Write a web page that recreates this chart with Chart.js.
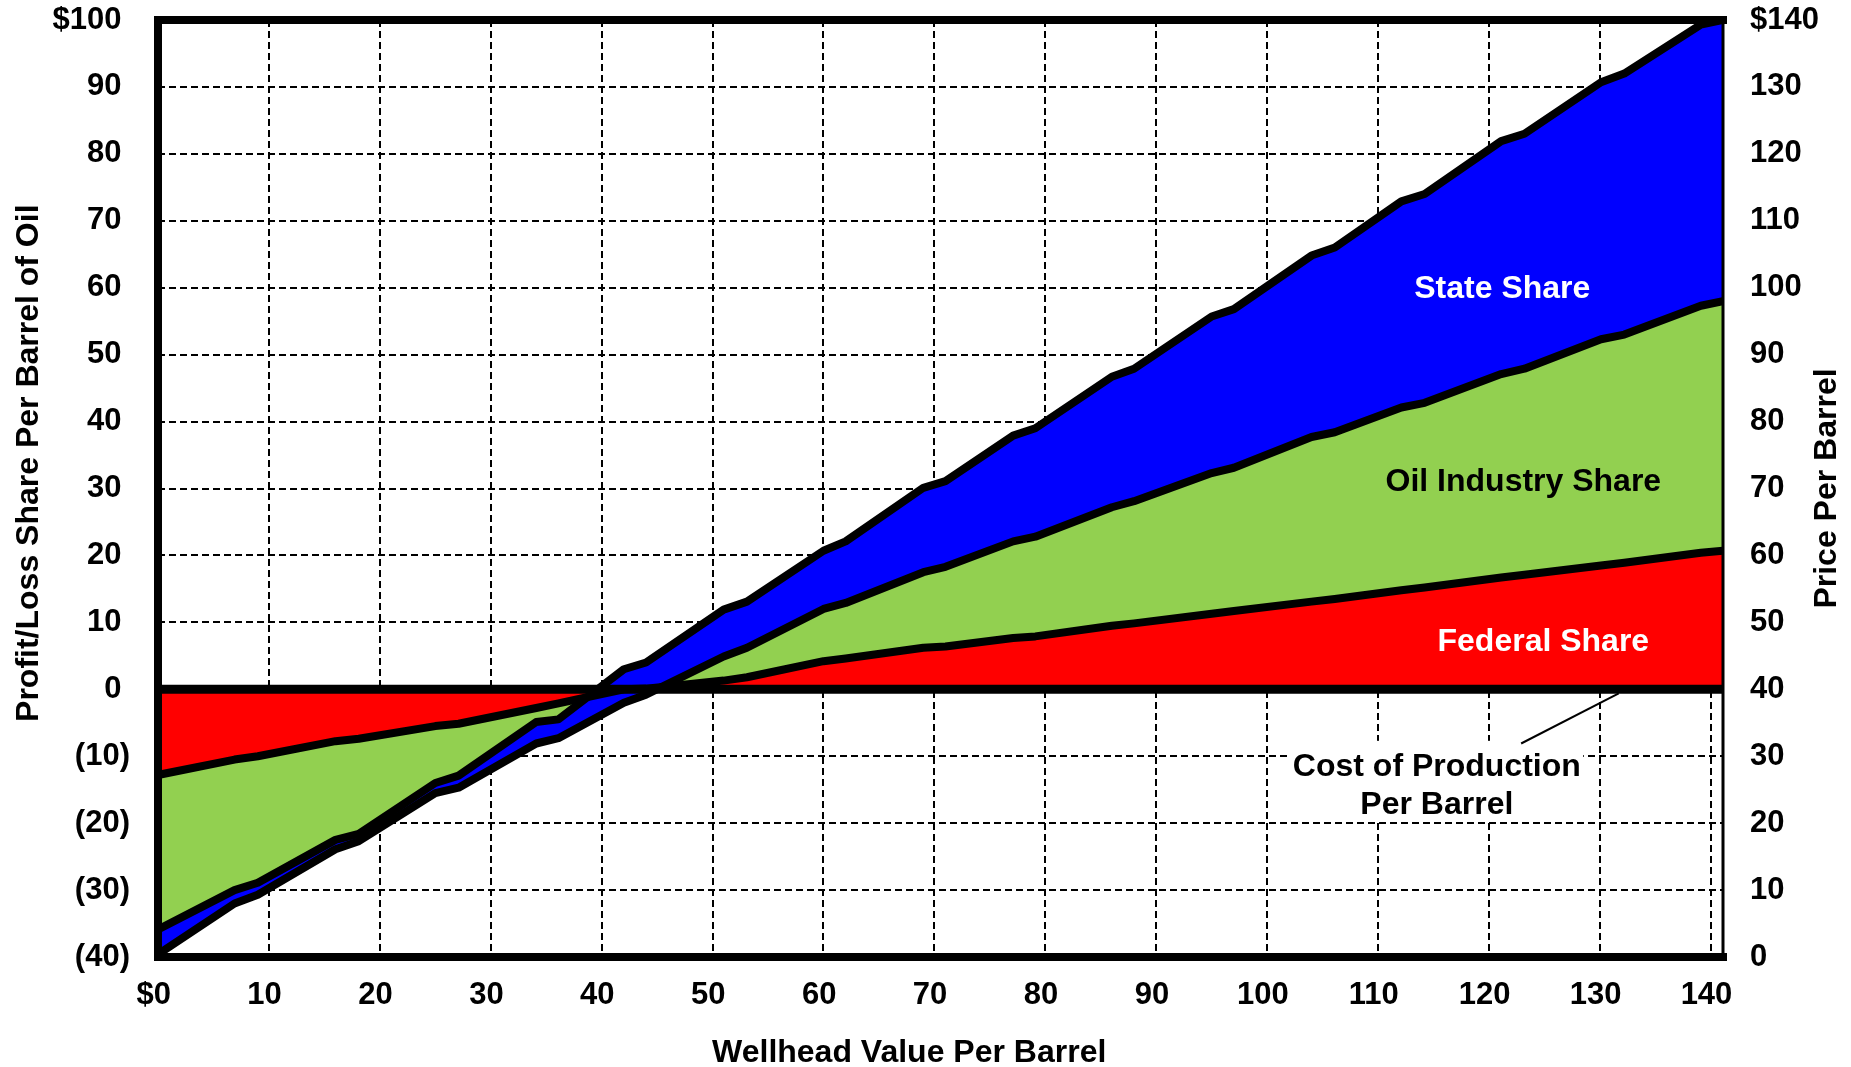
<!DOCTYPE html>
<html>
<head>
<meta charset="utf-8">
<script src="https://cdn.jsdelivr.net/npm/chart.js@4.4.1/dist/chart.umd.min.js"></script>
<style>
html,body{margin:0;padding:0;background:#fff;}
canvas{display:block;}
</style>
</head>
<body>
<canvas id="c" width="1851" height="1067"></canvas>
<script>
// Wellhead value per barrel at each data point
const wellheadValue = [0, 6.9, 9.0, 16.0, 18.1, 25.0, 27.1, 34.1, 36.1, 42.0, 44.0, 51.0, 53.1, 60.0, 62.0, 69.0, 71.0, 77.1, 79.1, 86.0, 88.0, 95.0, 97.0, 104.0, 106.1, 112.1, 114.2, 121.1, 123.2, 130.1, 132.2, 139.1, 141.1];
// Stacked boundary lines (profit/loss per barrel)
const federalShareLine  = [-12.8, -10.5, -10.0, -7.75, -7.4, -5.5, -5.15, -2.8, -2.1, 0.0, 0.1, 1.3, 1.8, 4.2, 4.6, 6.2, 6.4, 7.65, 7.9, 9.5, 9.85, 11.3, 11.7, 13.1, 13.5, 14.8, 15.2, 16.7, 17.1, 18.5, 18.9, 20.4, 20.7];
const industryShareLine = [-35.9, -30.0, -28.9, -22.5, -21.6, -14.0, -12.9, -4.9, -4.5, 3.0, 4.0, 11.9, 13.1, 20.7, 22.1, 30.1, 31.1, 37.9, 39.0, 46.7, 47.9, 55.7, 56.8, 64.8, 66.0, 72.9, 74.0, 81.9, 83.0, 90.7, 92.0, 99.3, 100.0];
const stateShareLine    = [-39.6, -32.0, -30.7, -23.9, -22.7, -15.5, -14.7, -8.1, -7.3, -2.0, -0.8, 4.9, 6.2, 12.0, 12.9, 17.5, 18.3, 22.1, 22.8, 27.2, 28.1, 32.3, 33.1, 37.7, 38.4, 42.1, 42.8, 47.1, 47.9, 52.3, 53.0, 57.3, 58.0];
// Axis ticks
const xTicks = [0, 10, 20, 30, 40, 50, 60, 70, 80, 90, 100, 110, 120, 130, 140];
const leftRange = [-40, 100];
const rightRange = [0, 140];
// Text
const areaLabels = [
  {text: 'State Share', x: 121.2, y: 58.4, color: '#FFFFFF'},
  {text: 'Oil Industry Share', x: 123.1, y: 29.6, color: '#000000'},
  {text: 'Federal Share', x: 124.9, y: 5.7, color: '#FFFFFF'}
];
const costNote = {lines: ['Cost of Production', 'Per Barrel'], x: 115.3, y: [-13.0, -18.7]};

const FONT = '"Liberation Sans", Arial, sans-serif';
const pts = arr => wellheadValue.map((x, i) => ({x: x, y: arr[i]}));
const NB = '\u00A0';

const lineStyle = {borderColor: '#000', borderWidth: 8, pointRadius: 0, tension: 0, borderJoinStyle: 'round', borderCapStyle: 'butt'};

const overlay = {
  id: 'overlay',
  afterDatasetsDraw(chart) {
    const {ctx, chartArea: a, scales: {x, y}} = chart;
    ctx.save();
    // zero (cost of production) line
    const y0 = y.getPixelForValue(0);
    ctx.strokeStyle = '#000';
    ctx.lineWidth = 9;
    ctx.beginPath(); ctx.moveTo(a.left, y0); ctx.lineTo(a.right, y0); ctx.stroke();

    // area labels
    ctx.font = 'bold 32px ' + FONT;
    ctx.textAlign = 'center';
    ctx.textBaseline = 'alphabetic';
    areaLabels.forEach(l => {
      ctx.fillStyle = l.color;
      ctx.fillText(l.text, x.getPixelForValue(l.x), y.getPixelForValue(l.y));
    });

    // cost note with white background
    const bx0 = x.getPixelForValue(102.1), bx1 = x.getPixelForValue(128.5);
    const by0 = y.getPixelForValue(-7.7), by1 = y.getPixelForValue(-19.6);
    ctx.fillStyle = '#fff';
    ctx.fillRect(bx0, by0, bx1 - bx0, by1 - by0);
    ctx.fillStyle = '#000';
    costNote.lines.forEach((t, i) => ctx.fillText(t, x.getPixelForValue(costNote.x), y.getPixelForValue(costNote.y[i])));
    ctx.lineWidth = 2;
    ctx.beginPath();
    ctx.moveTo(x.getPixelForValue(122.9), y.getPixelForValue(-8.1));
    ctx.lineTo(x.getPixelForValue(131.7), y.getPixelForValue(-0.6));
    ctx.stroke();

    // plot frame
    ctx.lineWidth = 8;
    ctx.lineJoin = 'miter';
    ctx.lineCap = 'square';
    ctx.beginPath();
    ctx.moveTo(a.right, a.top);
    ctx.lineTo(a.left, a.top);
    ctx.lineTo(a.left, a.bottom);
    ctx.lineTo(a.right, a.bottom);
    ctx.stroke();
    ctx.lineWidth = 3;
    ctx.lineCap = 'butt';
    ctx.beginPath(); ctx.moveTo(a.right, a.top); ctx.lineTo(a.right, a.bottom); ctx.stroke();
    ctx.restore();
  },
  afterDraw(chart) {
    const {ctx, chartArea: a} = chart;
    ctx.save();
    ctx.fillStyle = '#000';
    ctx.font = 'bold 32px ' + FONT;
    ctx.textAlign = 'center';
    ctx.textBaseline = 'alphabetic';
    ctx.fillText('Wellhead Value Per Barrel', a.left + 0.48 * (a.right - a.left), a.bottom + 105);
    ctx.save();
    ctx.translate(a.left - 120, a.top + 0.473 * (a.bottom - a.top));
    ctx.rotate(-Math.PI / 2);
    ctx.fillText('Profit/Loss Share Per Barrel of Oil', 0, 0);
    ctx.restore();
    ctx.save();
    ctx.translate(a.right + 113, a.top + 0.5 * (a.bottom - a.top));
    ctx.rotate(-Math.PI / 2);
    ctx.fillText('Price Per Barrel', 0, 0);
    ctx.restore();
    ctx.restore();
  }
};

const tickFont = {family: FONT, size: 31, weight: 'bold'};
const noPad = s => { s.paddingTop = 0; s.paddingBottom = 0; s.paddingLeft = 0; s.paddingRight = 0; };

new Chart(document.getElementById('c'), {
  type: 'line',
  data: {
    datasets: [
      Object.assign({label: 'Federal Share', data: pts(federalShareLine), backgroundColor: '#FF0000', fill: 'origin', order: 3}, lineStyle),
      Object.assign({label: 'Oil Industry Share', data: pts(industryShareLine), backgroundColor: '#92D050', fill: '-1', order: 2}, lineStyle),
      Object.assign({label: 'State Share', data: pts(stateShareLine), backgroundColor: '#0000FF', fill: '-1', order: 1}, lineStyle)
    ]
  },
  options: {
    responsive: false,
    animation: false,
    devicePixelRatio: 1,
    layout: {autoPadding: false, padding: {top: 20, left: 0, right: 0, bottom: 0}},
    plugins: {
      legend: {display: false},
      tooltip: {enabled: false},
      filler: {drawTime: 'beforeDatasetsDraw'}
    },
    scales: {
      x: {
        type: 'linear', position: 'bottom',
        min: xTicks[0], max: 141.1,
        afterBuildTicks: s => { s.ticks = xTicks.map(v => ({value: v})); },
        ticks: {
          autoSkip: false, maxRotation: 0, minRotation: 0, padding: 20,
          font: tickFont, color: '#000',
          callback: v => (v === 0 ? '$0' : String(v)) + NB
        },
        grid: {color: '#000', lineWidth: 2, drawTicks: false},
        border: {display: false, dash: [7, 4]},
        afterFit: s => { s.height = 110; noPad(s); }
      },
      y: {
        position: 'left',
        min: leftRange[0], max: leftRange[1],
        ticks: {
          stepSize: 10, padding: 28, font: tickFont, color: '#000',
          callback: v => v === leftRange[1] ? '$' + v + NB : (v < 0 ? '(' + (-v) + ')' : v + NB)
        },
        grid: {color: '#000', lineWidth: 2, drawTicks: false},
        border: {display: false, dash: [7, 4]},
        afterFit: s => { s.width = 158; noPad(s); }
      },
      y2: {
        position: 'right',
        min: rightRange[0], max: rightRange[1],
        ticks: {
          stepSize: 10, padding: 27, font: tickFont, color: '#000',
          callback: v => v === rightRange[1] ? '$' + v : String(v)
        },
        grid: {display: false, drawTicks: false},
        border: {display: false},
        afterFit: s => { s.width = 128; noPad(s); }
      }
    }
  },
  plugins: [overlay]
});
</script>
</body>
</html>
